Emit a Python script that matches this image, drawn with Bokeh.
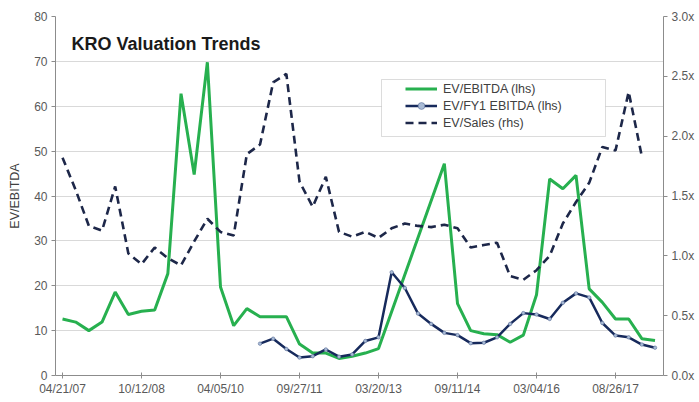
from datetime import datetime, timedelta
from bokeh.plotting import figure
from bokeh.models import (Range1d, LinearAxis, FixedTicker, PrintfTickFormatter,
                          DatetimeTickFormatter, Legend, LegendItem, Label, BoxAnnotation)
from bokeh.embed import file_html
from bokeh.resources import INLINE

# ---------------- data ----------------
start_date = "04/21/07"
step_days = 90

ev_ebitda = [12.6, 11.9, 10.0, 11.9, 18.6, 13.6, 14.3, 14.6, 22.7, 62.8,
             44.8, 69.8, 19.7, 11.1, 14.9, 13.1, 13.1, 13.1, 7.0, 5.0,
             5.0, 3.8, 4.3, 5.0, 6.0, None, None, None, None, 47.2,
             16.0, 10.0, 9.3, 9.1, 7.4, 9.0, 18.0, 43.8, 41.6, 44.6,
             19.3, 16.3, 12.6, 12.6, 8.2, 7.8]

ev_fy1_ebitda = [None] * 15 + [7.1, 8.2, 5.9, 4.0, 4.3, 5.8, 4.2, 4.7, 7.7, 8.5,
                               23.0, 19.5, 13.8, 11.5, 9.5, 9.0, 7.2, 7.3, 8.5, 11.5,
                               13.9, 13.6, 12.6, 16.2, 18.3, 17.4, 11.7, 8.9, 8.5, 6.9,
                               6.2]

ev_sales = [1.82, 1.55, 1.25, 1.21, 1.58, 1.02, 0.93, 1.07, 0.98, 0.92,
            1.12, 1.31, 1.20, 1.17, 1.85, 1.93, 2.45, 2.52, 1.62, 1.41,
            1.66, 1.20, 1.16, 1.20, 1.15, 1.23, 1.27, 1.25, 1.24, 1.26,
            1.23, 1.07, 1.09, 1.11, 0.83, 0.80, 0.88, 1.00, 1.27, 1.45,
            1.61, 1.91, 1.88, 2.37, 1.83]

x_tick_labels = ["04/21/07", "10/12/08", "04/05/10", "09/27/11",
                 "03/20/13", "09/11/14", "03/04/16", "08/26/17"]
lhs_ticks = [0, 10, 20, 30, 40, 50, 60, 70, 80]
rhs_ticks = [0.0, 0.5, 1.0, 1.5, 2.0, 2.5, 3.0]

title_text = "KRO Valuation Trends"
series_names = ["EV/EBITDA (lhs)", "EV/FY1 EBITDA (lhs)", "EV/Sales (rhs)"]

# ---------------- build ----------------
d0 = datetime.strptime(start_date, "%m/%d/%y")
dates = [d0 + timedelta(days=step_days * i) for i in range(len(ev_ebitda))]
tick_dates = [datetime.strptime(t, "%m/%d/%y") for t in x_tick_labels]
tick_ms = [(t - datetime(1970, 1, 1)).total_seconds() * 1000.0 for t in tick_dates]


def pairs(xs, ys):
    px = [x for x, y in zip(xs, ys) if y is not None]
    py = [y for y in ys if y is not None]
    return px, py


GREEN = "#27b04f"
NAVY = "#172a5c"
DASH = "#1d2749"
TICK_COL = "#595959"
AXIS_COL = "#8c8c8c"
FONT = "Liberation Sans"

p = figure(width=699, height=402, x_axis_type="datetime",
           output_backend="svg", toolbar_location=None,
           x_range=Range1d(d0 - timedelta(days=48), d0 + timedelta(days=4108)),
           y_range=Range1d(0, 80),
           min_border_left=55, min_border_right=36,
           min_border_top=16, min_border_bottom=27)
p.outline_line_color = None
p.background_fill_color = "white"
p.border_fill_color = "white"

p.extra_y_ranges = {"rhs": Range1d(0, 3)}

# left axis
la = p.yaxis[0]
la.ticker = FixedTicker(ticks=lhs_ticks)
la.axis_label = "EV/EBITDA"
la.axis_label_text_font = FONT
la.axis_label_text_font_style = "normal"
la.axis_label_text_font_size = "12.5px"
la.axis_label_text_color = "#404040"
la.axis_label_standoff = 9

# right axis
ra = LinearAxis(y_range_name="rhs", ticker=FixedTicker(ticks=rhs_ticks),
                formatter=PrintfTickFormatter(format="%.1fx"))
p.add_layout(ra, "right")

# bottom axis
xa = p.xaxis[0]
xa.ticker = FixedTicker(ticks=tick_ms)
xa.formatter = DatetimeTickFormatter(milliseconds="%m/%d/%y", seconds="%m/%d/%y",
                                     minsec="%m/%d/%y", minutes="%m/%d/%y",
                                     hourmin="%m/%d/%y", hours="%m/%d/%y",
                                     days="%m/%d/%y", months="%m/%d/%y",
                                     years="%m/%d/%y")

for ax in [la, ra, xa]:
    ax.major_label_text_font = FONT
    ax.major_label_text_font_size = "12px"
    ax.major_label_text_color = TICK_COL
    ax.axis_line_color = AXIS_COL
    ax.major_tick_line_color = AXIS_COL
    ax.minor_tick_line_color = None
    ax.major_tick_out = 4
    ax.major_tick_in = 0
    ax.major_label_standoff = 4
xa.major_tick_in = 3
xa.major_tick_out = 3
xa.major_label_standoff = 3

p.xgrid.visible = False
p.ygrid.ticker = FixedTicker(ticks=lhs_ticks)
p.ygrid.grid_line_color = "#d9d9d9"
p.ygrid.grid_line_width = 1

# series
gx, gy = pairs(dates, ev_ebitda)
g = p.line(gx, gy, line_color=GREEN, line_width=3)

nx, ny = pairs(dates, ev_fy1_ebitda)
n_line = p.line(nx, ny, line_color=NAVY, line_width=2.5)
n_pts = p.scatter(nx, ny, marker="circle", size=3.5, fill_color="#a9bbd6",
                  line_color="#5b6f99", line_width=0.6)

sx = dates[:len(ev_sales)]
s = p.line(sx, ev_sales, line_color=DASH, line_width=2.6, line_dash="8 5",
           y_range_name="rhs")

# title
p.add_layout(Label(x=16, y=332, x_units="screen", y_units="screen",
                   text=title_text, text_font=FONT, text_font_style="bold",
                   text_font_size="18px", text_color="#1a1a1a",
                   text_baseline="alphabetic"))

# legend frame
p.add_layout(BoxAnnotation(left=326, right=550, bottom=239, top=296,
                           left_units="screen", right_units="screen",
                           bottom_units="screen", top_units="screen",
                           fill_color="white", fill_alpha=1.0,
                           line_color="#8c8c8c", line_width=1))

legend = Legend(items=[LegendItem(label=series_names[0], renderers=[g]),
                       LegendItem(label=series_names[1], renderers=[n_line, n_pts]),
                       LegendItem(label=series_names[2], renderers=[s])],
                location=(350, 244), padding=0, margin=0, spacing=0,
                glyph_width=32, glyph_height=17, label_height=17,
                label_standoff=6, border_line_alpha=0, background_fill_alpha=0,
                label_text_font=FONT, label_text_font_size="12.5px",
                label_text_color="#404040")
p.add_layout(legend, "center")

open("out.html", "w").write(file_html(p, INLINE))
